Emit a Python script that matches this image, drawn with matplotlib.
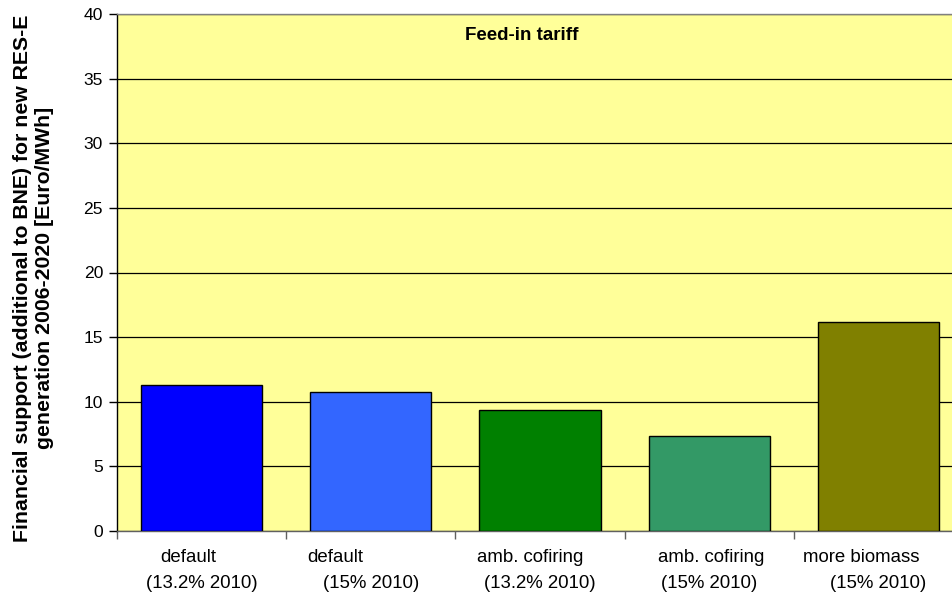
import matplotlib
matplotlib.use("Agg")
import matplotlib.pyplot as plt
import matplotlib.transforms as mtransforms

plt.rcParams['font.family'] = ['Liberation Sans', 'DejaVu Sans']

# Scenario data
scenario_names = ["default", "default", "amb. cofiring", "amb. cofiring", "more biomass"]
scenario_targets = ["(13.2% 2010)", "(15% 2010)", "(13.2% 2010)", "(15% 2010)", "(15% 2010)"]
support_values = [11.3, 10.75, 9.4, 7.35, 16.15]
bar_colors = ["#0000FF", "#3366FF", "#008000", "#339966", "#808000"]
y_ticks = [0, 5, 10, 15, 20, 25, 30, 35, 40]

# horizontal shift of the first label line relative to the category centre
name_shift = [-0.08, -0.21, -0.06, 0.01, -0.10]

W, H = 953, 594
fig = plt.figure(figsize=(W / 100, H / 100), dpi=100)
ax = fig.add_axes([117 / W, (H - 531) / H, 846 / W, 517 / H])
ax.set_facecolor("#FFFF99")

x = list(range(len(support_values)))
ax.set_axisbelow(True)
ax.grid(axis="y", color="black", linewidth=0.9)
ax.bar(x, support_values, width=0.716, color=bar_colors,
       edgecolor="black", linewidth=1.0, zorder=3)

ax.set_xlim(-0.5, len(support_values) - 0.5)
ax.set_ylim(0, 40)
ax.set_yticks(y_ticks)
ax.set_yticklabels([str(v) for v in y_ticks], fontsize=12.6)
ax.set_xticks([i - 0.5 for i in range(len(support_values) + 1)])
ax.set_xticklabels([])
ax.tick_params(axis="y", direction="out", length=6, width=1, color="black", pad=4)
ax.tick_params(axis="x", direction="out", length=6, width=1, color="#606060")

ax.spines["right"].set_visible(False)
ax.spines["top"].set_color("#808080")
ax.spines["left"].set_color("black")
ax.spines["bottom"].set_color("#606060")
for s in ax.spines.values():
    s.set_linewidth(1.0)

# two-line category labels below the axis
trans = mtransforms.blended_transform_factory(ax.transData, fig.transFigure)
for i, (nm, tg) in enumerate(zip(scenario_names, scenario_targets)):
    ax.text(i + name_shift[i], 1 - 558 / H, nm, transform=trans, ha="center",
            va="center", fontsize=13.4)
    ax.text(i, 1 - 583 / H, tg, transform=trans, ha="center",
            va="center", fontsize=13.4)

ax.text(0.479, 0.959, "Feed-in tariff", transform=ax.transAxes, ha="center",
        va="center", fontsize=13.5, fontweight="bold")

fig.text(34 / W, 1 - 278 / H,
         "Financial support (additional to BNE) for new RES-E\n"
         "generation 2006-2020 [Euro/MWh]",
         rotation=90, ha="center", va="center", fontsize=15.3,
         fontweight="bold", linespacing=1.2)

fig.savefig("out.png", dpi=100)
